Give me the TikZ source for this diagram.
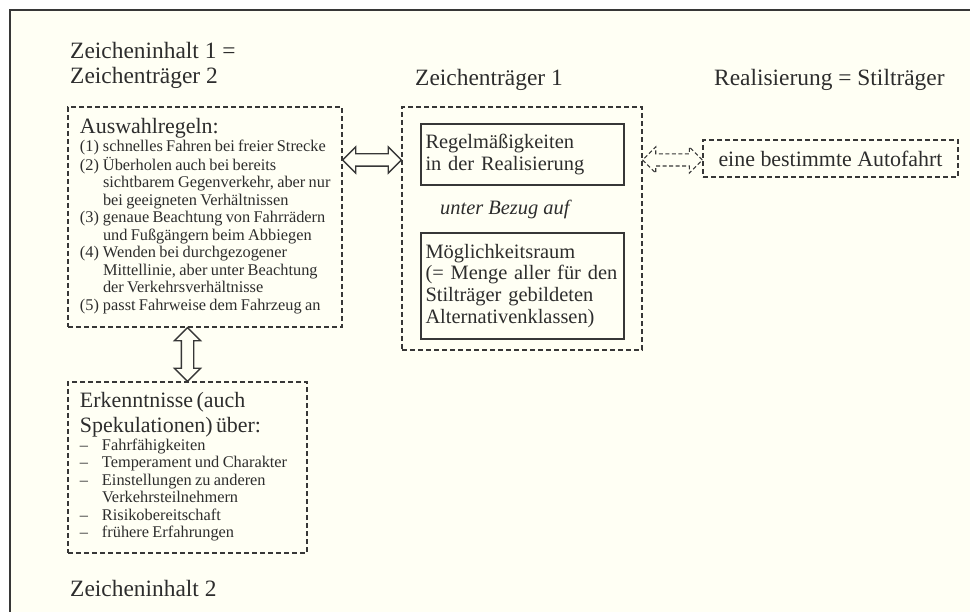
\documentclass[tikz,border=0pt]{standalone}
\usepackage{fontspec}
\setmainfont{Liberation Serif}
\usetikzlibrary{arrows.meta,positioning,shapes.arrows,calc}
\definecolor{zsCream}{RGB}{255,255,244}
\definecolor{zsInk}  {RGB}{ 45, 45, 45}
\definecolor{zsLine} {RGB}{ 55, 55, 55}
\newcommand\headfont {\fontsize{23.5}{26}\selectfont}
\newcommand\titlefont{\fontsize{22}{25}\selectfont}
\newcommand\boxfont  {\fontsize{20.5}{22}\selectfont}
\newcommand\listfont {\fontsize{16.4}{17.6}\selectfont}

\begin{document}
\begin{tikzpicture}[x=1bp,y=-1bp,
  every node/.style={text=zsInk},
  head/.style={anchor=base west,font=\headfont,align=left,inner sep=0pt},
  dbox/.style={draw=zsLine,line width=1.3bp,dash pattern=on 5bp off 3bp,
               inner sep=0pt},
  sbox/.style={draw=zsLine,line width=1.1bp,minimum width=203bp,
               text width=194bp,align=left,inner sep=0pt,font=\boxfont},
  fatarrow/.style={double arrow,draw=zsLine,line width=1.3bp,
                   inner xsep=0pt,inner ysep=5.5bp,
                   double arrow head extend=7bp,double arrow tip angle=90}
]
\useasboundingbox (0,0) rectangle (970,612);
\fill[white] (0,0) rectangle (970,612);
\fill[zsCream] (10,10) rectangle (970,612);
\draw[zsLine,line width=1.6bp] (10,612) -- (10,10) -- (970,10);

% headings
\node[head] (zi1) at (70,84) {Zeicheninhalt 1 =\\Zeichenträger 2};
\node[head] (zt1) at (415,86) {Zeichenträger 1};
\node[head] (real) at (714,86) {Realisierung = Stilträger};
\node[head] (zi2) at (70,596) {Zeicheninhalt 2};

% boxes
\node[dbox,minimum width=274bp,minimum height=220bp,text width=250bp,
      align=left] (rules) at (205,217)
  {{\titlefont Auswahlregeln:\par}\listfont
   \begin{tabular}[t]{@{}p{23bp}@{}l@{}}
   (1) & schnelles Fahren bei freier Strecke\\
   (2) & Überholen auch bei bereits\\
       & sichtbarem Gegenverkehr, aber nur\\
       & bei geeigneten Verhältnissen\\
   (3) & genaue Beachtung von Fahrrädern\\
       & und Fußgängern beim Abbiegen\\
   (4) & Wenden bei durchgezogener\\
       & Mittellinie, aber unter Beachtung\\
       & der Verkehrsverhältnisse\\
   (5) & passt Fahrweise dem Fahrzeug an
   \end{tabular}};
\node[dbox,minimum width=240bp,minimum height=243bp] (mid) at (522,228.5) {};
\node[sbox,minimum height=61bp] (regel) at (522.5,154.5)
  {Regelmäßigkeiten\\in der Realisierung};
\node[anchor=base west,inner sep=0pt,font=\boxfont\itshape] (bezug) at (440,215)
  {unter Bezug auf};
\node[sbox,minimum height=106bp] (raum) at (522.5,286)
  {Möglichkeitsraum\\(= Menge aller für den\\Stilträger gebildeten\\Alternativenklassen)};
\node[dbox,minimum width=255bp,minimum height=37bp,font=\titlefont] (fahrt)
  at (830.5,158.5) {eine bestimmte Autofahrt};
\node[dbox,minimum width=239bp,minimum height=171bp,text width=215bp,
      align=left] (wissen) at (187.5,467.5)
  {{\titlefont Erkenntnisse (auch\\Spekulationen) über:\par}\listfont
   \begin{tabular}[t]{@{}p{22bp}@{}l@{}}
   -- & Fahrfähigkeiten\\
   -- & Temperament und Charakter\\
   -- & Einstellungen zu anderen\\
      & Verkehrsteilnehmern\\
   -- & Risikobereitschaft\\
   -- & frühere Erfahrungen
   \end{tabular}};

% double arrows between the boxes
\coordinate (ya) at (0,160);
\path let \p1=(rules.east |- ya), \p2=(mid.west |- ya) in
  node[fatarrow,minimum height=\x2-\x1] (lr1) at ($(\p1)!0.5!(\p2)$) {};
\path let \p1=(mid.east |- ya), \p2=(fahrt.west |- ya) in
  node[fatarrow,line width=1.1bp,dash pattern=on 4bp off 2.5bp,
       minimum height=\x2-\x1] (lr2) at ($(\p1)!0.5!(\p2)$) {};
\path let \p1=(wissen.north), \p2=(rules.south -| wissen.north) in
  node[fatarrow,rotate=90,minimum height=\y2-\y1] (ud1) at ($(\p1)!0.5!(\p2)$) {};
\end{tikzpicture}
\end{document}
